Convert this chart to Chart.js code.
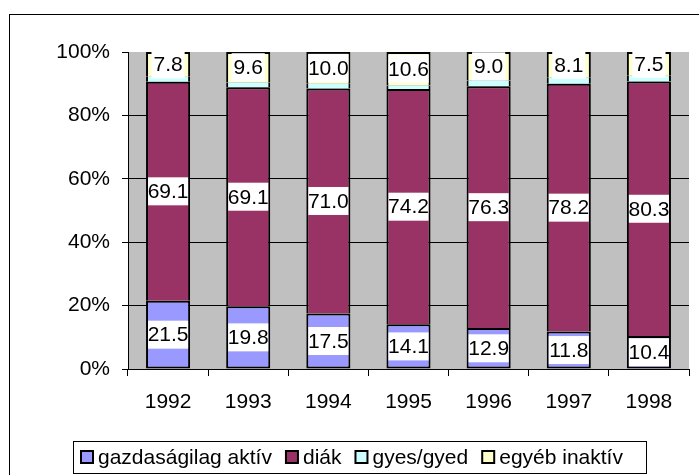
<!DOCTYPE html>
<html>
<head>
<meta charset="utf-8">
<script src="https://cdn.jsdelivr.net/npm/chart.js@4.4.0/dist/chart.umd.min.js"></script>
<style>
  body { margin: 0; background: #fff; }
  canvas { display: block; }
</style>
</head>
<body>
<canvas id="myChart" width="699" height="475"></canvas>
<script>
const years = ["1992", "1993", "1994", "1995", "1996", "1997", "1998"];
const aktiv = [21.5, 19.8, 17.5, 14.1, 12.9, 11.8, 10.4];
const diak = [69.1, 69.1, 71.0, 74.2, 76.3, 78.2, 80.3];
const gyes = [1.6, 1.5, 1.5, 1.1, 1.8, 1.9, 1.8];
const egyeb = [7.8, 9.6, 10.0, 10.6, 9.0, 8.1, 7.5];
const yTicks = [0, 20, 40, 60, 80, 100];
// gyes/gyed has no value labels in the original
const labelledSeries = [0, 1, 3];

const FONT = "'Liberation Sans', Arial, sans-serif";
const FONT_SIZE = 21;

const frame = {
  id: "frame",
  beforeDraw(chart) {
    const ctx = chart.ctx;
    const a = chart.chartArea;
    ctx.save();
    ctx.fillStyle = "#fff";
    ctx.fillRect(0, 0, chart.width, chart.height);
    ctx.strokeStyle = "#000";
    ctx.lineWidth = 1;
    ctx.strokeRect(9.5, 14.5, 720, 500);
    ctx.fillStyle = "#C0C0C0";
    ctx.fillRect(a.left, a.top, a.right - a.left, a.bottom - a.top);
    ctx.restore();
  }
};

const valueLabels = {
  id: "valueLabels",
  afterDatasetsDraw(chart) {
    const ctx = chart.ctx;
    ctx.save();
    ctx.font = FONT_SIZE + "px " + FONT;
    ctx.textAlign = "center";
    ctx.textBaseline = "middle";
    labelledSeries.forEach(i => {
      const meta = chart.getDatasetMeta(i);
      meta.data.forEach((bar, j) => {
        const p = bar.getProps(["x", "y", "base", "width"], true);
        const text = chart.data.datasets[i].data[j].toFixed(1);
        const cy = (p.y + p.base) / 2;
        const w = Math.min(ctx.measureText(text).width + 4, p.width - 4);
        ctx.fillStyle = "#fff";
        ctx.fillRect(p.x - w / 2, cy - 14, w, 28);
        ctx.fillStyle = "#000";
        ctx.fillText(text, p.x, cy + 1);
      });
    });
    ctx.restore();
  }
};

const legendBox = {
  id: "legendBox",
  afterDraw(chart) {
    const ctx = chart.ctx;
    ctx.save();
    ctx.strokeStyle = "#000";
    ctx.lineWidth = 1;
    ctx.strokeRect(73.5, 441.5, 573, 32);
    ctx.font = FONT_SIZE + "px " + FONT;
    ctx.textBaseline = "middle";
    let x = 81;
    chart.data.datasets.forEach(ds => {
      ctx.fillStyle = ds.backgroundColor;
      ctx.fillRect(x, 451, 12, 12);
      ctx.lineWidth = 2;
      ctx.strokeRect(x, 451, 12, 12);
      ctx.fillStyle = "#000";
      ctx.fillText(ds.label, x + 17, 458);
      x += 17 + ctx.measureText(ds.label).width + 14;
    });
    ctx.restore();
  }
};

const ctx = document.getElementById("myChart").getContext("2d");
new Chart(ctx, {
  type: "bar",
  data: {
    labels: years,
    datasets: [
      { label: "gazdaságilag aktív", data: aktiv, backgroundColor: "#9999FF", borderSkipped: false },
      { label: "diák", data: diak, backgroundColor: "#993366" },
      { label: "gyes/gyed", data: gyes, backgroundColor: "#CCFFFF",
        borderWidth: { left: 2, right: 2, top: 0, bottom: 0 } },
      { label: "egyéb inaktív", data: egyeb, backgroundColor: "#FFFFCC" }
    ]
  },
  options: {
    responsive: false,
    animation: false,
    devicePixelRatio: 1,
    layout: { padding: { left: 0, top: 52, right: 10, bottom: 0 } },
    datasets: {
      bar: {
        barPercentage: 0.55,
        categoryPercentage: 1,
        borderColor: "#000",
        borderWidth: 2,
        borderSkipped: "start"
      }
    },
    plugins: {
      legend: { display: false },
      tooltip: { enabled: false }
    },
    scales: {
      x: {
        stacked: true,
        grid: { offset: true, drawOnChartArea: false, tickLength: 7, tickColor: "#000" },
        border: { color: "#000", width: 1 },
        ticks: { color: "#000", font: { family: FONT, size: FONT_SIZE }, padding: 14, maxRotation: 0 },
        afterFit(scale) { scale.height = 106; }
      },
      y: {
        stacked: true,
        min: 0,
        max: 100,
        afterBuildTicks(scale) { scale.ticks = yTicks.map(v => ({ value: v })); },
        grid: {
          color: c => (c.tick && c.tick.value === 100) ? "rgba(0,0,0,0)" : "#000",
          tickColor: "#000",
          tickLength: 6
        },
        border: { color: "#000", width: 1 },
        ticks: { color: "#000", font: { family: FONT, size: FONT_SIZE }, padding: 12, callback: v => v + "%" },
        afterFit(scale) { scale.width = 128; }
      }
    }
  },
  plugins: [frame, valueLabels, legendBox]
});
</script>
</body>
</html>
